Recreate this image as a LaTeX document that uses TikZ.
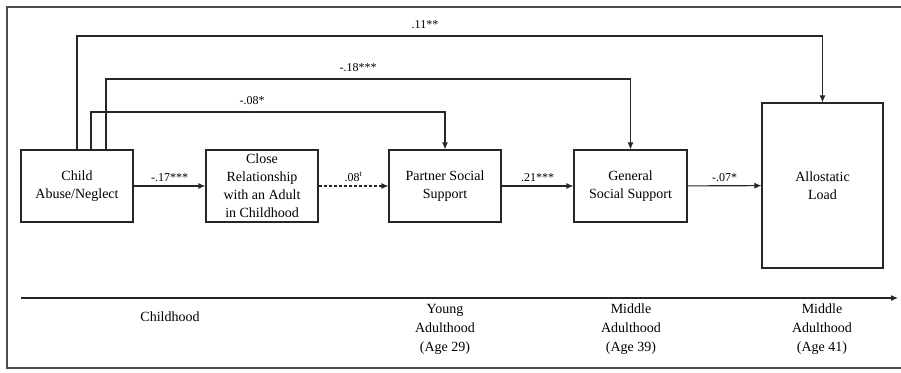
\documentclass[tikz,border=0pt]{standalone}
\usepackage{amsmath}
\usepackage{amssymb}
\usepackage{fontspec}
\setmainfont{Liberation Serif}
\usepackage{tikz}
\usetikzlibrary{arrows.meta}

\tikzset{
	box/.style={draw=black!85,line width=1.1pt,align=center,inner sep=1pt,font=\fontsize{14}{18}\selectfont},
	arr/.style={draw=black!85,line width=1.1pt,-{Latex[length=7pt,width=6pt]}},
	lbl/.style={font=\fontsize{12}{14}\selectfont,inner sep=1pt},
	era/.style={align=center,font=\fontsize{14}{19}\selectfont}
}

\begin{document}
\begin{tikzpicture}[x=1pt,y=-1pt]
				
					\useasboundingbox (0,0) rectangle (901,372);
					
					\draw[line width=1.3pt,black!70] (906,7) -- (7,7) -- (7,368) -- (906,368);
					
					\node[box,minimum width=112pt,minimum height=72pt] (child) at (77,186) {Child\\Abuse/Neglect};
					\node[box,minimum width=112pt,minimum height=72pt] (close) at (262,186) {Close\\Relationship\\with an Adult\\in Childhood};
					\node[box,minimum width=112pt,minimum height=72pt] (partner) at (445,186) {Partner Social\\Support};
					\node[box,minimum width=113pt,minimum height=72pt] (general) at (630.5,186) {General\\Social Support};
					\node[box,minimum width=121pt,minimum height=165pt] (allo) at (822.5,185.5) {Allostatic\\Load};
					
					\draw[arr] (child) -- node[lbl,above=3pt] {-.17***} (close);
					\draw[arr,densely dashed] (close) -- node[lbl,above=3pt] {.08\textsuperscript{t}} (partner);
					\draw[arr] (partner) -- node[lbl,above=3pt] {.21***} (general);
					\draw[arr] (general) -- node[lbl,above=3pt] {-.07*} (allo);
					
					\coordinate (top1) at (0,36);
					\coordinate (top2) at (0,79);
					\coordinate (top3) at (0,112);
					
					\draw[arr] (child.north) |- (top1 -| allo.north) -- (allo.north);
					\draw[arr] ([xshift=29pt]child.north) |- (top2 -| general.north) -- (general.north);
					\draw[arr] ([xshift=14pt]child.north) |- (top3 -| partner.north) -- (partner.north);
					
					\node[lbl] (l1) at (425,25) {.11**};
					\node[lbl] (l2) at (358,68) {-.18***};
					\node[lbl] (l3) at (252,101) {-.08*};
					
					\coordinate (tstart) at (21,298);
					\coordinate (tend) at (898,298);
					\draw[arr] (tstart) -- (tend);
					
					\node[era] (childhood) at (170,317) {Childhood};
					\node[era] (young) at (445,329) {Young\\Adulthood\\(Age 29)};
					\node[era] (mid39) at (631,329) {Middle\\Adulthood\\(Age 39)};
					\node[era] (mid41) at (822,329) {Middle\\Adulthood\\(Age 41)};
				\end{tikzpicture}
\end{document}
